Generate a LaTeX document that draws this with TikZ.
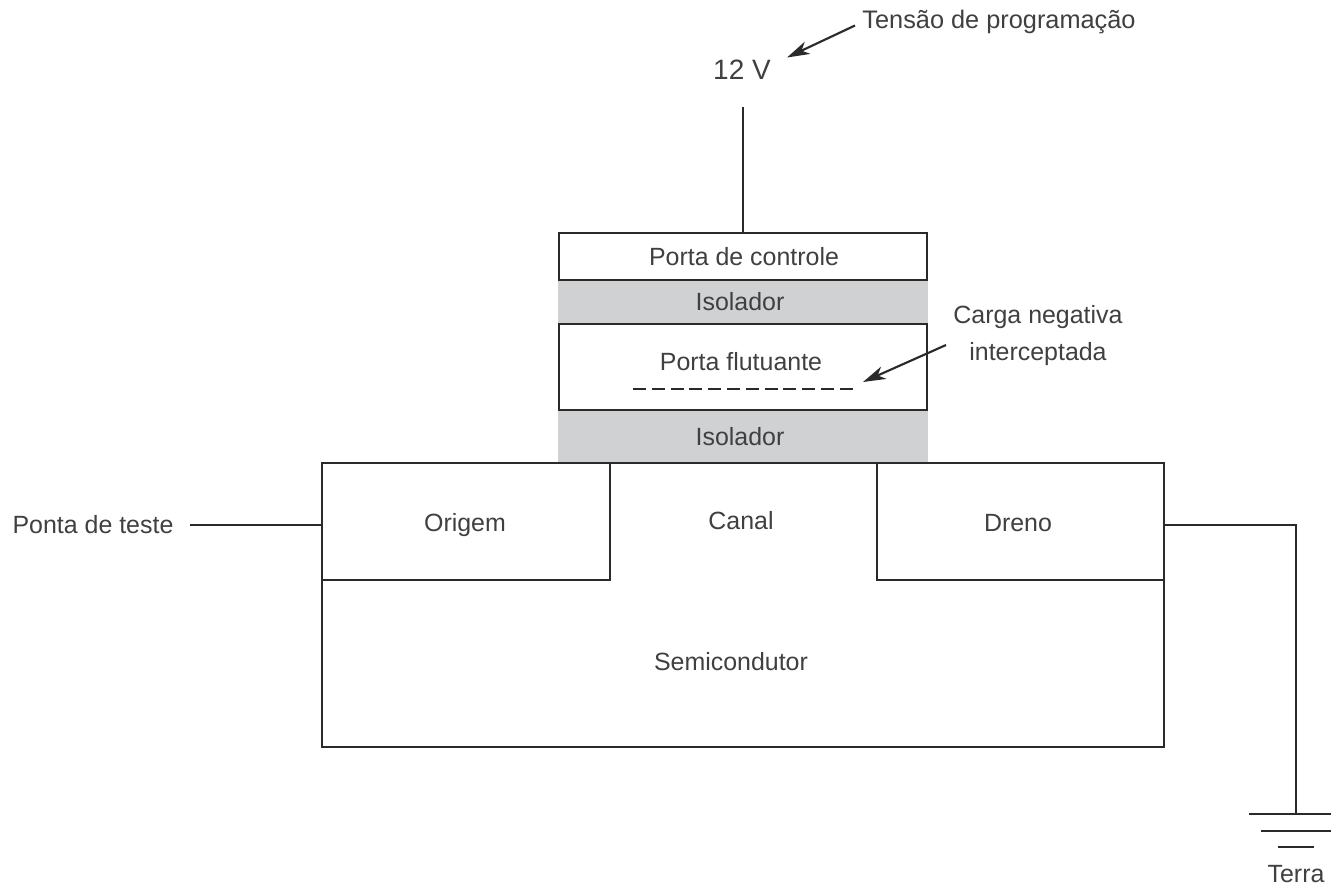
\documentclass[tikz,border=0pt]{standalone}
\usepackage{fontspec}
\setmainfont{Liberation Sans}
\usetikzlibrary{arrows.meta}
\definecolor{ins}{HTML}{D0D1D3}
\definecolor{ink}{HTML}{2A2A2A}
\definecolor{txt}{HTML}{404040}
\tikzset{
  x=0.75pt,y=-0.75pt,
  box/.style={draw=ink,line width=1.5pt,fill=white,inner sep=0pt,anchor=north west},
  insul/.style={fill=ins,draw=none,inner sep=0pt,anchor=north west},
  lbl/.style={font=\fontsize{18.7}{22}\selectfont,text=txt,inner sep=0pt,align=center},
  wire/.style={draw=ink,line width=1.5pt},
  pointer/.style={draw=ink,line width=1.6pt,-{Stealth[length=17pt,width=10pt,inset=5pt]}}
}
\begin{document}
\begin{tikzpicture}
\useasboundingbox[fill=white] (0,0) rectangle (1331,886);
% insulators (sizes in pt: px x 0.75)
\node[insul,minimum width=277.5pt,minimum height=33pt] (i1bg) at (558,280) {};
\node[insul,minimum width=277.5pt,minimum height=39pt] (i2bg) at (558,410) {};
% boxes
\node[box,minimum width=276pt,minimum height=35.25pt] (pc) at (557.5,232) {};
\node[box,minimum width=276pt,minimum height=64.5pt] (pf) at (557.5,323) {};
% semiconductor outline
\coordinate (sTL) at (322,462.5);
\coordinate (sTR) at (1164,462.5);
\coordinate (sBR) at (1164,747);
\coordinate (sBL) at (322,747);
\draw[wire] (sTL) -- (sTR) -- (sBR) -- (sBL) -- cycle;
\coordinate (o1) at (610,462.5);
\coordinate (o2) at (610,579.5);
\coordinate (o3) at (322,579.5);
\draw[wire] (o1) -- (o2) -- (o3);
\coordinate (d1) at (877,462.5);
\coordinate (d2) at (877,579.5);
\coordinate (d3) at (1164,579.5);
\draw[wire] (d1) -- (d2) -- (d3);
% labels
\node[lbl] (tpc) at (744,257) {Porta de controle};
\node[lbl] (ti1) at (740,302) {Isolador};
\node[lbl] (tpf) at (741,362) {Porta flutuante};
\node[lbl] (ti2) at (740,437) {Isolador};
\node[lbl] (tor) at (465,525) {Origem};
\node[lbl] (tca) at (741,521) {Canal};
\node[lbl] (tdr) at (1018,523) {Dreno};
\node[lbl] (tse) at (731,662) {Semicondutor};
\node[lbl] (tpt) at (93,525) {Ponta de teste};
\node[lbl] (tte) at (1296,874.5) {Terra};
\node[lbl,font=\fontsize{19}{23}\selectfont] (ttp) at (999,22) {Tensão de programação};
\node[lbl,font=\fontsize{21}{25}\selectfont] (v12) at (742,70) {12 V};
\node[lbl,font=\fontsize{18.7}{27.7}\selectfont] (tcn) at (1038,336) {Carga negativa\\interceptada};
% wires
\coordinate (wtop) at (743,107);
\draw[wire] (wtop) -- (wtop |- pc.north);
\coordinate (pt1) at (190,525);
\draw[wire] (pt1) -- (322,525);
\coordinate (g0) at (1296,814);
\draw[wire] (1164,525) -- (1296,525) -- (g0);
\coordinate (g1a) at (1249,814); \coordinate (g1b) at (1331,814);
\coordinate (g2a) at (1261,831); \coordinate (g2b) at (1331,831);
\coordinate (g3a) at (1278,847); \coordinate (g3b) at (1314,847);
\draw[wire] (g1a) -- (g1b);
\draw[wire] (g2a) -- (g2b);
\draw[wire] (g3a) -- (g3b);
% dashed
\coordinate (da) at (633,389);
\coordinate (db) at (853,389);
\draw[draw=ink,line width=2pt,dash pattern=on 9.75pt off 4.35pt] (da) -- (db);
% pointers
\coordinate (p1a) at (855,25.5); \coordinate (p1b) at (787,57.5);
\draw[pointer] (p1a) -- (p1b);
\coordinate (p2a) at (946,345); \coordinate (p2b) at (863,382);
\draw[pointer] (p2a) -- (p2b);
\end{tikzpicture}
\end{document}
